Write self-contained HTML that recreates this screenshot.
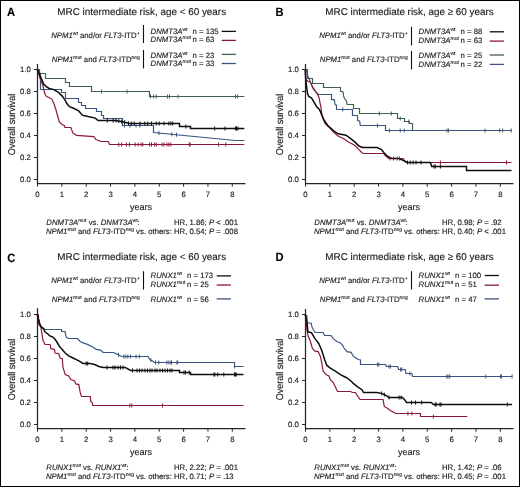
<!DOCTYPE html><html><head><meta charset="utf-8"><style>html,body{margin:0;padding:0;background:#fff;}svg{display:block;will-change:transform;text-rendering:geometricPrecision;}</style></head><body>
<svg width="520" height="487" viewBox="0 0 520 487" font-family='"Liberation Sans", sans-serif' fill="#1e1e1e"><style>text{stroke:#1e1e1e;stroke-width:0.15px;}</style>
<rect x="0" y="0" width="520" height="487" fill="#fff"/>
<rect x="0.5" y="0.5" width="519" height="486" fill="none" stroke="#000" stroke-width="1"/>
<text transform="translate(7 15.9) scale(0.93 1)" font-size="12" font-weight="bold" fill="#000">A</text>
<text transform="translate(275.4 15.9) scale(0.93 1)" font-size="12" font-weight="bold" fill="#000">B</text>
<text transform="translate(7.2 261.6) scale(0.93 1)" font-size="12" font-weight="bold" fill="#000">C</text>
<text transform="translate(275.4 261.2) scale(0.93 1)" font-size="12" font-weight="bold" fill="#000">D</text>
<text x="57.3" y="15.1" font-size="9.9">MRC intermediate risk, age &lt; 60 years</text>
<text x="325.3" y="15.1" font-size="9.9">MRC intermediate risk, age ≥ 60 years</text>
<text x="57.3" y="260.1" font-size="9.9">MRC intermediate risk, age &lt; 60 years</text>
<text x="325.3" y="260.1" font-size="9.9">MRC intermediate risk, age ≥ 60 years</text>
<path d="M37.5 64V183.5H245.5" fill="none" stroke="#262626" stroke-width="1.25"/>
<path d="M34 69.5H37.5M34 91.5H37.5M34 113.5H37.5M34 135.5H37.5M34 157.5H37.5M34 179.5H37.5" stroke="#262626" stroke-width="1.0"/>
<path d="M37.5 183.5V186.7M61.85 183.5V186.7M86.2 183.5V186.7M110.55 183.5V186.7M134.9 183.5V186.7M159.25 183.5V186.7M183.6 183.5V186.7M207.95 183.5V186.7M232.3 183.5V186.7" stroke="#262626" stroke-width="1.0"/>
<text x="30.9" y="72.15" font-size="7.75" text-anchor="end">1.0</text>
<text x="30.9" y="94.15" font-size="7.75" text-anchor="end">0.8</text>
<text x="30.9" y="116.15" font-size="7.75" text-anchor="end">0.6</text>
<text x="30.9" y="138.15" font-size="7.75" text-anchor="end">0.4</text>
<text x="30.9" y="160.15" font-size="7.75" text-anchor="end">0.2</text>
<text x="30.9" y="182.15" font-size="7.75" text-anchor="end">0.0</text>
<text x="37.5" y="196.6" font-size="7.75" text-anchor="middle">0</text>
<text x="61.85" y="196.6" font-size="7.75" text-anchor="middle">1</text>
<text x="86.2" y="196.6" font-size="7.75" text-anchor="middle">2</text>
<text x="110.55" y="196.6" font-size="7.75" text-anchor="middle">3</text>
<text x="134.9" y="196.6" font-size="7.75" text-anchor="middle">4</text>
<text x="159.25" y="196.6" font-size="7.75" text-anchor="middle">5</text>
<text x="183.6" y="196.6" font-size="7.75" text-anchor="middle">6</text>
<text x="207.95" y="196.6" font-size="7.75" text-anchor="middle">7</text>
<text x="232.3" y="196.6" font-size="7.75" text-anchor="middle">8</text>
<text x="141" y="209.6" font-size="9" text-anchor="middle">years</text>
<text transform="translate(14.5 124.5) rotate(-90)" font-size="9.9" text-anchor="middle" textLength="61.5" lengthAdjust="spacingAndGlyphs">Overall survival</text>
<path d="M305.5 64V183.5H513.5" fill="none" stroke="#262626" stroke-width="1.25"/>
<path d="M302 69.5H305.5M302 91.5H305.5M302 113.5H305.5M302 135.5H305.5M302 157.5H305.5M302 179.5H305.5" stroke="#262626" stroke-width="1.0"/>
<path d="M305.5 183.5V186.7M329.85 183.5V186.7M354.2 183.5V186.7M378.55 183.5V186.7M402.9 183.5V186.7M427.25 183.5V186.7M451.6 183.5V186.7M475.95 183.5V186.7M500.3 183.5V186.7" stroke="#262626" stroke-width="1.0"/>
<text x="298.9" y="72.15" font-size="7.75" text-anchor="end">1.0</text>
<text x="298.9" y="94.15" font-size="7.75" text-anchor="end">0.8</text>
<text x="298.9" y="116.15" font-size="7.75" text-anchor="end">0.6</text>
<text x="298.9" y="138.15" font-size="7.75" text-anchor="end">0.4</text>
<text x="298.9" y="160.15" font-size="7.75" text-anchor="end">0.2</text>
<text x="298.9" y="182.15" font-size="7.75" text-anchor="end">0.0</text>
<text x="305.5" y="196.6" font-size="7.75" text-anchor="middle">0</text>
<text x="329.85" y="196.6" font-size="7.75" text-anchor="middle">1</text>
<text x="354.2" y="196.6" font-size="7.75" text-anchor="middle">2</text>
<text x="378.55" y="196.6" font-size="7.75" text-anchor="middle">3</text>
<text x="402.9" y="196.6" font-size="7.75" text-anchor="middle">4</text>
<text x="427.25" y="196.6" font-size="7.75" text-anchor="middle">5</text>
<text x="451.6" y="196.6" font-size="7.75" text-anchor="middle">6</text>
<text x="475.95" y="196.6" font-size="7.75" text-anchor="middle">7</text>
<text x="500.3" y="196.6" font-size="7.75" text-anchor="middle">8</text>
<text x="409" y="209.6" font-size="9" text-anchor="middle">years</text>
<text transform="translate(282.5 124.5) rotate(-90)" font-size="9.9" text-anchor="middle" textLength="61.5" lengthAdjust="spacingAndGlyphs">Overall survival</text>
<path d="M37.5 308.3V428.5H245.5" fill="none" stroke="#262626" stroke-width="1.25"/>
<path d="M34 314.5H37.5M34 336.5H37.5M34 358.5H37.5M34 380.5H37.5M34 402.5H37.5M34 424.5H37.5" stroke="#262626" stroke-width="1.0"/>
<path d="M37.5 428.5V431.7M61.85 428.5V431.7M86.2 428.5V431.7M110.55 428.5V431.7M134.9 428.5V431.7M159.25 428.5V431.7M183.6 428.5V431.7M207.95 428.5V431.7M232.3 428.5V431.7" stroke="#262626" stroke-width="1.0"/>
<text x="30.9" y="317.15" font-size="7.75" text-anchor="end">1.0</text>
<text x="30.9" y="339.15" font-size="7.75" text-anchor="end">0.8</text>
<text x="30.9" y="361.15" font-size="7.75" text-anchor="end">0.6</text>
<text x="30.9" y="383.15" font-size="7.75" text-anchor="end">0.4</text>
<text x="30.9" y="405.15" font-size="7.75" text-anchor="end">0.2</text>
<text x="30.9" y="427.15" font-size="7.75" text-anchor="end">0.0</text>
<text x="37.5" y="441.6" font-size="7.75" text-anchor="middle">0</text>
<text x="61.85" y="441.6" font-size="7.75" text-anchor="middle">1</text>
<text x="86.2" y="441.6" font-size="7.75" text-anchor="middle">2</text>
<text x="110.55" y="441.6" font-size="7.75" text-anchor="middle">3</text>
<text x="134.9" y="441.6" font-size="7.75" text-anchor="middle">4</text>
<text x="159.25" y="441.6" font-size="7.75" text-anchor="middle">5</text>
<text x="183.6" y="441.6" font-size="7.75" text-anchor="middle">6</text>
<text x="207.95" y="441.6" font-size="7.75" text-anchor="middle">7</text>
<text x="232.3" y="441.6" font-size="7.75" text-anchor="middle">8</text>
<text x="141" y="454.6" font-size="9" text-anchor="middle">years</text>
<text transform="translate(14.5 369.5) rotate(-90)" font-size="9.9" text-anchor="middle" textLength="61.5" lengthAdjust="spacingAndGlyphs">Overall survival</text>
<path d="M305.5 309V428.5H513.5" fill="none" stroke="#262626" stroke-width="1.25"/>
<path d="M302 314.5H305.5M302 336.5H305.5M302 358.5H305.5M302 380.5H305.5M302 402.5H305.5M302 424.5H305.5" stroke="#262626" stroke-width="1.0"/>
<path d="M305.5 428.5V431.7M329.85 428.5V431.7M354.2 428.5V431.7M378.55 428.5V431.7M402.9 428.5V431.7M427.25 428.5V431.7M451.6 428.5V431.7M475.95 428.5V431.7M500.3 428.5V431.7" stroke="#262626" stroke-width="1.0"/>
<text x="298.9" y="317.15" font-size="7.75" text-anchor="end">1.0</text>
<text x="298.9" y="339.15" font-size="7.75" text-anchor="end">0.8</text>
<text x="298.9" y="361.15" font-size="7.75" text-anchor="end">0.6</text>
<text x="298.9" y="383.15" font-size="7.75" text-anchor="end">0.4</text>
<text x="298.9" y="405.15" font-size="7.75" text-anchor="end">0.2</text>
<text x="298.9" y="427.15" font-size="7.75" text-anchor="end">0.0</text>
<text x="305.5" y="441.6" font-size="7.75" text-anchor="middle">0</text>
<text x="329.85" y="441.6" font-size="7.75" text-anchor="middle">1</text>
<text x="354.2" y="441.6" font-size="7.75" text-anchor="middle">2</text>
<text x="378.55" y="441.6" font-size="7.75" text-anchor="middle">3</text>
<text x="402.9" y="441.6" font-size="7.75" text-anchor="middle">4</text>
<text x="427.25" y="441.6" font-size="7.75" text-anchor="middle">5</text>
<text x="451.6" y="441.6" font-size="7.75" text-anchor="middle">6</text>
<text x="475.95" y="441.6" font-size="7.75" text-anchor="middle">7</text>
<text x="500.3" y="441.6" font-size="7.75" text-anchor="middle">8</text>
<text x="409" y="454.6" font-size="9" text-anchor="middle">years</text>
<text transform="translate(282.5 369.5) rotate(-90)" font-size="9.9" text-anchor="middle" textLength="61.5" lengthAdjust="spacingAndGlyphs">Overall survival</text>
<text x="139.6" y="37.9" font-size="7.75" text-anchor="end"><tspan font-style="italic">NPM1</tspan><tspan dy="-3.0" font-size="5.0" stroke-width="0.12">wt</tspan><tspan dy="3.0"> and/or </tspan><tspan font-style="italic">FLT3</tspan><tspan>-ITD</tspan><tspan dy="-3.0" font-size="5.0" stroke-width="0.12">+</tspan></text>
<text x="139.9" y="61.6" font-size="7.75" text-anchor="end"><tspan font-style="italic">NPM1</tspan><tspan dy="-3.0" font-size="5.0" stroke-width="0.12">mut</tspan><tspan dy="3.0"> and </tspan><tspan font-style="italic">FLT3</tspan><tspan>-ITD</tspan><tspan dy="-3.0" font-size="5.0" stroke-width="0.12">neg</tspan></text>
<path d="M143.5 25V43" stroke="#111" stroke-width="1.1"/>
<path d="M143.5 49.9V68.4" stroke="#111" stroke-width="1.1"/>
<text x="150.6" y="33.5" font-size="7.75" text-anchor="start"><tspan font-style="italic">DNMT3A</tspan><tspan dy="-3.0" font-size="5.0" stroke-width="0.12">wt</tspan></text>
<text x="192.6" y="33.5" font-size="7.75">n = 135</text>
<path d="M221.7 31.4H235.9" stroke="#0d0d0d" stroke-width="1.3"/>
<text x="150.6" y="42.4" font-size="7.75" text-anchor="start"><tspan font-style="italic">DNMT3A</tspan><tspan dy="-3.0" font-size="5.0" stroke-width="0.12">mut</tspan></text>
<text x="192.6" y="42.4" font-size="7.75">n = 63</text>
<path d="M221.7 40.4H235.9" stroke="#8a1838" stroke-width="1.3"/>
<text x="150.6" y="57.5" font-size="7.75" text-anchor="start"><tspan font-style="italic">DNMT3A</tspan><tspan dy="-3.0" font-size="5.0" stroke-width="0.12">wt</tspan></text>
<text x="192.6" y="57.5" font-size="7.75">n = 23</text>
<path d="M221.7 54.4H235.9" stroke="#42604f" stroke-width="1.3"/>
<text x="150.6" y="66.4" font-size="7.75" text-anchor="start"><tspan font-style="italic">DNMT3A</tspan><tspan dy="-3.0" font-size="5.0" stroke-width="0.12">mut</tspan></text>
<text x="192.6" y="66.4" font-size="7.75">n = 33</text>
<path d="M221.7 63.5H235.9" stroke="#3a5580" stroke-width="1.3"/>
<text x="407.6" y="38.4" font-size="7.75" text-anchor="end"><tspan font-style="italic">NPM1</tspan><tspan dy="-3.0" font-size="5.0" stroke-width="0.12">wt</tspan><tspan dy="3.0"> and/or </tspan><tspan font-style="italic">FLT3</tspan><tspan>-ITD</tspan><tspan dy="-3.0" font-size="5.0" stroke-width="0.12">+</tspan></text>
<text x="407.9" y="62" font-size="7.75" text-anchor="end"><tspan font-style="italic">NPM1</tspan><tspan dy="-3.0" font-size="5.0" stroke-width="0.12">mut</tspan><tspan dy="3.0"> and </tspan><tspan font-style="italic">FLT3</tspan><tspan>-ITD</tspan><tspan dy="-3.0" font-size="5.0" stroke-width="0.12">neg</tspan></text>
<path d="M411.5 26.8V45.5" stroke="#111" stroke-width="1.1"/>
<path d="M411.5 50.9V69.5" stroke="#111" stroke-width="1.1"/>
<text x="418.6" y="34" font-size="7.75" text-anchor="start"><tspan font-style="italic">DNMT3A</tspan><tspan dy="-3.0" font-size="5.0" stroke-width="0.12">wt</tspan></text>
<text x="460.6" y="34" font-size="7.75">n = 88</text>
<path d="M489.7 31.8H503.9" stroke="#0d0d0d" stroke-width="1.3"/>
<text x="418.6" y="43.2" font-size="7.75" text-anchor="start"><tspan font-style="italic">DNMT3A</tspan><tspan dy="-3.0" font-size="5.0" stroke-width="0.12">mut</tspan></text>
<text x="460.6" y="43.2" font-size="7.75">n = 63</text>
<path d="M489.7 41.1H503.9" stroke="#8a1838" stroke-width="1.3"/>
<text x="418.6" y="58" font-size="7.75" text-anchor="start"><tspan font-style="italic">DNMT3A</tspan><tspan dy="-3.0" font-size="5.0" stroke-width="0.12">wt</tspan></text>
<text x="460.6" y="58" font-size="7.75">n = 25</text>
<path d="M489.7 55H503.9" stroke="#42604f" stroke-width="1.3"/>
<text x="418.6" y="66.9" font-size="7.75" text-anchor="start"><tspan font-style="italic">DNMT3A</tspan><tspan dy="-3.0" font-size="5.0" stroke-width="0.12">mut</tspan></text>
<text x="460.6" y="66.9" font-size="7.75">n = 22</text>
<path d="M489.7 64.4H503.9" stroke="#3a5580" stroke-width="1.3"/>
<text x="139.6" y="282.6" font-size="7.75" text-anchor="end"><tspan font-style="italic">NPM1</tspan><tspan dy="-3.0" font-size="5.0" stroke-width="0.12">wt</tspan><tspan dy="3.0"> and/or </tspan><tspan font-style="italic">FLT3</tspan><tspan>-ITD</tspan><tspan dy="-3.0" font-size="5.0" stroke-width="0.12">+</tspan></text>
<text x="139.9" y="301.8" font-size="7.75" text-anchor="end"><tspan font-style="italic">NPM1</tspan><tspan dy="-3.0" font-size="5.0" stroke-width="0.12">mut</tspan><tspan dy="3.0"> and </tspan><tspan font-style="italic">FLT3</tspan><tspan>-ITD</tspan><tspan dy="-3.0" font-size="5.0" stroke-width="0.12">neg</tspan></text>
<path d="M143.5 271.2V289.6" stroke="#111" stroke-width="1.1"/>
<text x="150.6" y="278.1" font-size="7.75" text-anchor="start"><tspan font-style="italic">RUNX1</tspan><tspan dy="-3.0" font-size="5.0" stroke-width="0.12">wt</tspan></text>
<text x="187" y="278.1" font-size="7.75">n = 173</text>
<path d="M216.7 275.9H230.9" stroke="#0d0d0d" stroke-width="1.3"/>
<text x="150.6" y="287.3" font-size="7.75" text-anchor="start"><tspan font-style="italic">RUNX1</tspan><tspan dy="-3.0" font-size="5.0" stroke-width="0.12">mut</tspan></text>
<text x="187" y="287.3" font-size="7.75">n = 25</text>
<path d="M216.7 285H230.9" stroke="#8a1838" stroke-width="1.3"/>
<text x="150.6" y="302" font-size="7.75" text-anchor="start"><tspan font-style="italic">RUNX1</tspan><tspan dy="-3.0" font-size="5.0" stroke-width="0.12">wt</tspan></text>
<text x="187" y="302" font-size="7.75">n = 56</text>
<path d="M216.7 298.9H230.9" stroke="#3a5580" stroke-width="1.3"/>
<text x="407.6" y="282.8" font-size="7.75" text-anchor="end"><tspan font-style="italic">NPM1</tspan><tspan dy="-3.0" font-size="5.0" stroke-width="0.12">wt</tspan><tspan dy="3.0"> and/or </tspan><tspan font-style="italic">FLT3</tspan><tspan>-ITD</tspan><tspan dy="-3.0" font-size="5.0" stroke-width="0.12">+</tspan></text>
<text x="407.9" y="301.8" font-size="7.75" text-anchor="end"><tspan font-style="italic">NPM1</tspan><tspan dy="-3.0" font-size="5.0" stroke-width="0.12">mut</tspan><tspan dy="3.0"> and </tspan><tspan font-style="italic">FLT3</tspan><tspan>-ITD</tspan><tspan dy="-3.0" font-size="5.0" stroke-width="0.12">neg</tspan></text>
<path d="M411.5 271.2V289.6" stroke="#111" stroke-width="1.1"/>
<text x="418.6" y="278" font-size="7.75" text-anchor="start"><tspan font-style="italic">RUNX1</tspan><tspan dy="-3.0" font-size="5.0" stroke-width="0.12">wt</tspan></text>
<text x="455" y="278" font-size="7.75">n = 100</text>
<path d="M484.7 275.5H498.9" stroke="#0d0d0d" stroke-width="1.3"/>
<text x="418.6" y="287.3" font-size="7.75" text-anchor="start"><tspan font-style="italic">RUNX1</tspan><tspan dy="-3.0" font-size="5.0" stroke-width="0.12">mut</tspan></text>
<text x="455" y="287.3" font-size="7.75">n = 51</text>
<path d="M484.7 285.2H498.9" stroke="#8a1838" stroke-width="1.3"/>
<text x="418.6" y="302" font-size="7.75" text-anchor="start"><tspan font-style="italic">RUNX1</tspan><tspan dy="-3.0" font-size="5.0" stroke-width="0.12">wt</tspan></text>
<text x="455" y="302" font-size="7.75">n = 47</text>
<path d="M484.7 298.9H498.9" stroke="#3a5580" stroke-width="1.3"/>
<text x="46.3" y="224.8" font-size="7.75" text-anchor="start"><tspan font-style="italic">DNMT3A</tspan><tspan dy="-3.0" font-size="5.0" stroke-width="0.12">mut</tspan><tspan dy="3.0"> vs. </tspan><tspan font-style="italic">DNMT3A</tspan><tspan dy="-3.0" font-size="5.0" stroke-width="0.12">wt</tspan><tspan dy="3.0">:</tspan></text>
<text x="174" y="224.8" font-size="7.75">HR, 1.86; <tspan font-style="italic">P</tspan> &lt; .001</text>
<text x="45.9" y="234" font-size="7.75" text-anchor="start"><tspan font-style="italic">NPM1</tspan><tspan dy="-3.0" font-size="5.0" stroke-width="0.12">mut</tspan><tspan dy="3.0"> and </tspan><tspan font-style="italic">FLT3</tspan><tspan>-ITD</tspan><tspan dy="-3.0" font-size="5.0" stroke-width="0.12">neg</tspan><tspan dy="3.0"> vs. others:</tspan></text>
<text x="174" y="234" font-size="7.75">HR, 0.54; <tspan font-style="italic">P</tspan> = .008</text>
<text x="314.3" y="224.8" font-size="7.75" text-anchor="start"><tspan font-style="italic">DNMT3A</tspan><tspan dy="-3.0" font-size="5.0" stroke-width="0.12">mut</tspan><tspan dy="3.0"> vs. </tspan><tspan font-style="italic">DNMT3A</tspan><tspan dy="-3.0" font-size="5.0" stroke-width="0.12">wt</tspan><tspan dy="3.0">:</tspan></text>
<text x="442" y="224.8" font-size="7.75">HR, 0.98; <tspan font-style="italic">P</tspan> = .92</text>
<text x="313.9" y="234" font-size="7.75" text-anchor="start"><tspan font-style="italic">NPM1</tspan><tspan dy="-3.0" font-size="5.0" stroke-width="0.12">mut</tspan><tspan dy="3.0"> and </tspan><tspan font-style="italic">FLT3</tspan><tspan>-ITD</tspan><tspan dy="-3.0" font-size="5.0" stroke-width="0.12">neg</tspan><tspan dy="3.0"> vs. others:</tspan></text>
<text x="442" y="234" font-size="7.75">HR, 0.40; <tspan font-style="italic">P</tspan> &lt; .001</text>
<text x="46.3" y="469.8" font-size="7.75" text-anchor="start"><tspan font-style="italic">RUNX1</tspan><tspan dy="-3.0" font-size="5.0" stroke-width="0.12">mut</tspan><tspan dy="3.0"> vs. </tspan><tspan font-style="italic">RUNX1</tspan><tspan dy="-3.0" font-size="5.0" stroke-width="0.12">wt</tspan><tspan dy="3.0">:</tspan></text>
<text x="174" y="469.8" font-size="7.75">HR, 2.22; <tspan font-style="italic">P</tspan> = .001</text>
<text x="45.9" y="479" font-size="7.75" text-anchor="start"><tspan font-style="italic">NPM1</tspan><tspan dy="-3.0" font-size="5.0" stroke-width="0.12">mut</tspan><tspan dy="3.0"> and </tspan><tspan font-style="italic">FLT3</tspan><tspan>-ITD</tspan><tspan dy="-3.0" font-size="5.0" stroke-width="0.12">neg</tspan><tspan dy="3.0"> vs. others:</tspan></text>
<text x="174" y="479" font-size="7.75">HR, 0.71; <tspan font-style="italic">P</tspan> = .13</text>
<text x="314.3" y="469.8" font-size="7.75" text-anchor="start"><tspan font-style="italic">RUNX1</tspan><tspan dy="-3.0" font-size="5.0" stroke-width="0.12">mut</tspan><tspan dy="3.0"> vs. </tspan><tspan font-style="italic">RUNX1</tspan><tspan dy="-3.0" font-size="5.0" stroke-width="0.12">wt</tspan><tspan dy="3.0">:</tspan></text>
<text x="442" y="469.8" font-size="7.75">HR, 1.42; <tspan font-style="italic">P</tspan> = .06</text>
<text x="313.9" y="479" font-size="7.75" text-anchor="start"><tspan font-style="italic">NPM1</tspan><tspan dy="-3.0" font-size="5.0" stroke-width="0.12">mut</tspan><tspan dy="3.0"> and </tspan><tspan font-style="italic">FLT3</tspan><tspan>-ITD</tspan><tspan dy="-3.0" font-size="5.0" stroke-width="0.12">neg</tspan><tspan dy="3.0"> vs. others:</tspan></text>
<text x="442" y="479" font-size="7.75">HR, 0.45; <tspan font-style="italic">P</tspan> = .001</text>
<path d="M37.2 69.5 L39.5 69.5 L39.5 73.5 L45.5 73.5 L45.5 78.5 L65.5 78.5 L65.5 82.5 L69.5 82.5 L69.5 86.5 L91.5 86.5 L91.5 91.5 L149.5 91.5 L149.5 96.5 L244.3 96.5" fill="none" stroke="#42604f" stroke-width="1.2" stroke-linejoin="miter" stroke-linecap="butt"/>
<path d="M37.2 69.3 L38.5 70.5 L39.5 72.5 L40.5 73.5 L40.5 89.5 L61.5 89.5 L61.5 92.5 L65.5 92.5 L65.5 98.5 L78.5 98.5 L78.5 102.5 L81.5 102.5 L81.5 105.5 L85.5 105.5 L85.5 108.5 L96.5 108.5 L96.5 111.5 L101.5 111.5 L101.5 115.5 L103.5 115.5 L103.5 118.5 L122.5 118.5 L122.5 125.5 L153.5 125.5 L153.5 132.5 L235.5 140.5 L235.5 140.5 L244.3 140.5" fill="none" stroke="#3a5580" stroke-width="1.2" stroke-linejoin="miter" stroke-linecap="butt"/>
<path d="M37.2 69.3 L40 78.4 L42.8 85 L44.6 93.3 L46.5 96.5 L49.2 97.5 L52 99.3 L53.9 103.5 L55.7 109 L57.5 115.5 L59.4 122 L61.7 124.2 L64.5 125.6 L64.9 127.5 L70.8 127.5 L73 133.2 L76.6 135.3 L93.8 136.7 L96 139.6 L101 141.5 L108.2 141.5 L109.6 144.5 L244.3 144.5" fill="none" stroke="#8a1838" stroke-width="1.2" stroke-linejoin="miter" stroke-linecap="butt"/>
<path d="M37.2 69.3 L39.7 74.8 L42 80 L43.7 84 L46 86.5 L49.2 88.5 L53.9 89.6 L58.5 92.4 L62.2 96.1 L64.9 99.8 L66.8 103.5 L69.5 106.7 L73 108 L78.7 110.9 L82.3 115.2 L88.1 116.6 L95.2 118.1 L98.1 120.5 L106.7 120.5 L115.4 120.5 L122.5 121.8 L129.2 123.5 L179.5 123.5 L179.5 126.5 L190.5 126.5 L190.5 128.5 L244.3 128.5" fill="none" stroke="#0d0d0d" stroke-width="1.5" stroke-linejoin="miter" stroke-linecap="butt"/>
<path d="M305.3 69.5 L307.5 69.5 L307.5 78.5 L312.5 78.5 L312.5 83.5 L323.5 83.5 L323.5 87.5 L340.5 87.5 L340.5 91.3 L343.1 91.9 L343.7 96.5 L344.8 98.8 L346.5 101.2 L347.1 104.5 L353.5 104.5 L353.5 108.5 L359.5 108.5 L359.5 113.5 L397.5 113.5 L397.5 118.5 L404.5 118.5 L404.5 121.5 L409.5 121.5 L409.5 123.5 L412.5 123.5 L412.5 130.5 L511.2 130.5" fill="none" stroke="#42604f" stroke-width="1.2" stroke-linejoin="miter" stroke-linecap="butt"/>
<path d="M305.3 69.8 L306.9 70.9 L307.5 75.5 L309.2 79 L311 83.6 L312.7 87.7 L314.4 90.5 L316.7 92.8 L318.5 94.5 L331.5 94.5 L331.5 99.4 L334.4 99.8 L335 104.6 L336.5 105.2 L336.5 109.5 L352.5 109.5 L352.5 115.5 L357.5 115.5 L357.5 120.5 L359.6 120.9 L360.3 125.5 L385.5 125.5 L385.5 130.5 L511.2 130.5" fill="none" stroke="#3a5580" stroke-width="1.2" stroke-linejoin="miter" stroke-linecap="butt"/>
<path d="M305.3 69.8 L305.8 79.6 L308.1 81.3 L310.4 82.5 L312.7 87.1 L315 90.5 L317.3 94 L319 97.5 L320.2 104 L320.8 106.5 L322.2 116.6 L325.1 123.7 L329.4 127.3 L333.7 132.4 L338.1 136 L343.8 138.8 L348.1 141.7 L354.6 145.3 L358.2 148.9 L361.8 152.5 L363.2 153.5 L383.7 153.5 L385.8 156.1 L388.7 158.5 L403.1 158.5 L405.9 162.5 L511.5 162.5" fill="none" stroke="#8a1838" stroke-width="1.2" stroke-linejoin="miter" stroke-linecap="butt"/>
<path d="M305.3 69.8 L305.7 78.8 L306.8 88.4 L307.5 93.6 L308.7 96.5 L311.6 98 L312.7 100 L316.5 106.5 L319.4 109.4 L323.7 119.4 L328 125.9 L333.7 130.9 L338.1 133.8 L346 135.2 L351 138.8 L355.3 142.4 L358.9 146 L362.5 147.5 L377.2 147.5 L381.5 149.6 L384.4 153.2 L387.2 156.1 L391.6 158.5 L398.7 158.5 L403.1 160.4 L407.4 162.5 L430.4 162.5 L431.8 166.5 L466.5 166.5 L466.5 170.5 L511.5 170.5" fill="none" stroke="#0d0d0d" stroke-width="1.5" stroke-linejoin="miter" stroke-linecap="butt"/>
<path d="M37.2 314.5 L39.9 324.4 L41.6 327.3 L43.2 327.8 L44.9 329.5 L61.5 329.5 L61.5 331.5 L65 331.5 L65.9 335.7 L66.6 337.6 L68.7 338.5 L77.4 338.5 L80.2 341.5 L83.1 342.9 L87.4 344.4 L93.2 347.2 L96.1 349.4 L100.4 350.1 L103.2 352.5 L113.7 352.5 L115.1 353.2 L117.8 354.5 L121.8 356.5 L148.1 356.5 L149.4 359.2 L152.8 361.2 L154.1 362.5 L234.5 362.5 L234.5 366.5 L243.5 366.5" fill="none" stroke="#3a5580" stroke-width="1.2" stroke-linejoin="miter" stroke-linecap="butt"/>
<path d="M37.2 314.5 L38.3 314.5 L38.8 324.4 L40.7 326.9 L41.4 330 L42.9 340.1 L45 344.5 L50.1 344.5 L50.8 348.7 L54.4 349.4 L55.1 353 L58.7 353.7 L60.1 358 L62.3 358.7 L63 367.4 L65.2 374.6 L68.7 376 L70.9 379.6 L74.5 381 L75.9 383.9 L78.8 384.6 L80.2 392.4 L81.5 396.5 L90.3 396.5 L90.8 401.6 L92.1 402.3 L92.8 405.5 L243.5 405.5" fill="none" stroke="#8a1838" stroke-width="1.2" stroke-linejoin="miter" stroke-linecap="butt"/>
<path d="M37.2 314.5 L39.9 324.4 L41.6 327.3 L44 329.4 L44.9 331.8 L47.3 333.5 L49.8 335.9 L52.2 336.7 L54.7 338.8 L57.2 342.5 L59.6 346.6 L61.6 348.7 L65.2 353 L68.7 355.9 L73.1 358 L78.8 360.9 L83.1 363.5 L90.3 363.5 L94.6 364.5 L98.9 366.5 L103.2 367.5 L125.2 367.5 L126.5 368.2 L130.6 370.5 L179.5 370.5 L179.5 372.5 L190.5 372.5 L190.5 374.5 L243.5 374.5" fill="none" stroke="#0d0d0d" stroke-width="1.5" stroke-linejoin="miter" stroke-linecap="butt"/>
<path d="M305.3 314.5 L306.9 316 L307.1 322.8 L311.2 323.2 L312 326.9 L313.1 329.3 L315.2 332.5 L323.1 332.5 L324.6 335.5 L331 335.5 L333.2 338.7 L336.8 341.5 L340.4 343 L342.5 345.1 L344 348 L346.8 351.6 L351.2 352.3 L352.6 355.2 L354.7 357.3 L358.3 359.5 L360.5 360 L360.5 364.5 L385.7 364.5 L386.3 366.5 L397.8 366.5 L398.5 369.5 L405.2 369.5 L405.9 373.5 L411.9 373.5 L412.6 376.5 L512.1 376.5" fill="none" stroke="#3a5580" stroke-width="1.2" stroke-linejoin="miter" stroke-linecap="butt"/>
<path d="M305.3 314.5 L306 320 L307 330 L308 335.8 L310.2 340.8 L312.3 348 L314.5 350.9 L318.1 351.6 L320.2 355.9 L321.7 362.4 L323.1 371 L326 374.6 L328.9 376 L330.3 379.6 L333.2 382.5 L335.3 386.8 L337.5 391.5 L350.4 391.5 L352.6 392.5 L355.4 392.5 L357.4 395.7 L360.1 399.5 L383 399.5 L384.3 406.4 L387.7 408.5 L390.4 410.5 L395.8 413.5 L420.5 413.5 L420.5 416.5 L467.3 416.5" fill="none" stroke="#8a1838" stroke-width="1.2" stroke-linejoin="miter" stroke-linecap="butt"/>
<path d="M305.3 314.5 L307.1 322.8 L307.9 331.8 L309.6 332.2 L311.6 332.9 L314.5 337.9 L318.8 343.7 L321.7 350.2 L324.6 359.5 L326.7 365.2 L330.3 368.1 L336.1 371.7 L340.4 374.6 L346.1 377.5 L350.4 380.5 L353.3 383.4 L357.6 386.8 L361.9 389.7 L363.5 392.5 L376.9 392.5 L382.3 393.6 L386.3 395.7 L389 397.5 L402.5 397.5 L405.2 400.4 L406.5 402.5 L431.3 402.5 L433.3 404.5 L512.1 404.5" fill="none" stroke="#0d0d0d" stroke-width="1.5" stroke-linejoin="miter" stroke-linecap="butt"/>
<path d="M101.5 89.5V93.5M127 89.5V93.5M150.5 94.5V98.5M153.7 94.5V98.5M156.2 94.5V98.5M167.5 94.5V98.5M169.5 94.5V98.5M178 94.5V98.5M235.5 94.5V98.5M237.5 94.5V98.5" stroke="#42604f" stroke-width="1.0" fill="none"/>
<path d="M124.4 123.5V127.5M130.2 123.5V127.5M136 123.5V127.5M139.8 123.5V127.5M159 131.04V135.04M171.8 132.29V136.29M176.5 132.74V136.74" stroke="#3a5580" stroke-width="1.0" fill="none"/>
<path d="M118.8 142.5V146.5M121.7 142.5V146.5M126.5 142.5V146.5M129.4 142.5V146.5M135.2 142.5V146.5M138.1 142.5V146.5M141 142.5V146.5M142.9 142.5V146.5M149.6 142.5V146.5M151.5 142.5V146.5M154.4 142.5V146.5M156.3 142.5V146.5M162.1 142.5V146.5M164 142.5V146.5M166.9 142.5V146.5M168.8 142.5V146.5M170.8 142.5V146.5M189.3 142.5V146.5M190.1 142.5V146.5M218.6 142.5V146.5M225.8 142.5V146.5" stroke="#8a1838" stroke-width="1.0" fill="none"/>
<path d="M107.3 118.5V122.5M113.1 118.5V122.5M116 118.61V122.61M118.8 119.12V123.12M121.7 119.65V123.65M124.6 120.33V124.33M128.5 121.32V125.32M131.3 121.5V125.5M134.2 121.5V125.5M140 121.5V125.5M144.8 121.5V125.5M147.7 121.5V125.5M151.5 121.5V125.5M156.3 121.5V125.5M159.2 121.5V125.5M164 121.5V125.5M168.8 121.5V125.5M170.8 121.5V125.5M172.7 121.5V125.5M185.9 124.5V128.5M214.7 126.5V130.5M225.1 126.5V130.5M235.5 126.5V130.5M236.5 126.5V130.5M237.9 126.5V130.5" stroke="#0d0d0d" stroke-width="1.0" fill="none"/>
<path d="M379.3 111.5V115.5M391.3 111.5V115.5M400.2 116.5V120.5M408.8 119.5V123.5M447 128.5V132.5M448.5 128.5V132.5M485 128.5V132.5M499.6 128.5V132.5M502.7 128.5V132.5M511.2 128.5V132.5" stroke="#42604f" stroke-width="1.0" fill="none"/>
<path d="M342.7 107.5V111.5M377.5 123.5V127.5M389.4 128.5V132.5M400.2 128.5V132.5M404.2 128.5V132.5" stroke="#3a5580" stroke-width="1.0" fill="none"/>
<path d="M390.1 156.5V160.5M393.7 156.5V160.5M397.3 156.5V160.5M399.5 156.5V160.5M440.4 160.5V164.5M506.5 160.5V164.5" stroke="#8a1838" stroke-width="1.0" fill="none"/>
<path d="M407.4 160.5V164.5M410.2 160.5V164.5M413.1 160.5V164.5M416 160.5V164.5M421 160.5V164.5M434 164.5V168.5M435.4 164.5V168.5M440.4 164.5V168.5" stroke="#0d0d0d" stroke-width="1.0" fill="none"/>
<path d="M118.5 352.85V356.85M123.8 354.5V358.5M125.9 354.5V358.5M127.9 354.5V358.5M130.6 354.5V358.5M136 354.5V358.5M139.3 354.5V358.5M150.8 358.02V362.02M155.5 360.5V364.5M158.8 360.5V364.5M166.9 360.5V364.5M168.9 360.5V364.5M170.9 360.5V364.5M171.5 360.5V364.5M176.9 360.5V364.5M177.7 360.5V364.5M234.6 364.5V368.5" stroke="#3a5580" stroke-width="1.0" fill="none"/>
<path d="M86.2 361.5V365.5M87.7 361.5V365.5M107 365.5V369.5M113 365.5V369.5M115 365.5V369.5M118 365.5V369.5M120.5 365.5V369.5M123 365.5V369.5M132.5 368.5V372.5M137 368.5V372.5M139.5 368.5V372.5M142 368.5V372.5M145 368.5V372.5M147.5 368.5V372.5M150 368.5V372.5M152 368.5V372.5M155 368.5V372.5M157 368.5V372.5M160 368.5V372.5M162.5 368.5V372.5M165 368.5V372.5M167.5 368.5V372.5M170 368.5V372.5M172 368.5V372.5M184 370.5V374.5M185.5 370.5V374.5M189.2 370.5V374.5M214 372.5V376.5M214.8 372.5V376.5M217.7 372.5V376.5M223.8 372.5V376.5M234.6 372.5V376.5M235.4 372.5V376.5M236.2 372.5V376.5" stroke="#0d0d0d" stroke-width="1.0" fill="none"/>
<path d="M129.8 403.5V407.5M131.8 403.5V407.5M162.5 403.5V407.5" stroke="#8a1838" stroke-width="1.0" fill="none"/>
<path d="M377.6 362.5V366.5M378.9 362.5V366.5M389 364.5V368.5M390.4 364.5V368.5M400.5 367.5V371.5M401.8 367.5V371.5M409.9 371.5V375.5M446.7 374.5V378.5M448 374.5V378.5M449.6 374.5V378.5M485.8 374.5V378.5M500.6 374.5V378.5M501.5 374.5V378.5M512.1 374.5V378.5" stroke="#3a5580" stroke-width="1.0" fill="none"/>
<path d="M381.6 391.46V395.46M384.3 392.65V396.65M389 395.5V399.5M399.1 395.5V399.5M401.1 395.5V399.5M411.5 400.5V404.5M415.4 400.5V404.5M421.7 400.5V404.5M435.2 402.5V406.5M436.2 402.5V406.5M440 402.5V406.5M441 402.5V406.5M507.3 402.5V406.5" stroke="#0d0d0d" stroke-width="1.0" fill="none"/>
<path d="M407.9 411.5V415.5M411.9 411.5V415.5M433.3 414.5V418.5" stroke="#8a1838" stroke-width="1.0" fill="none"/>
</svg></body></html>
